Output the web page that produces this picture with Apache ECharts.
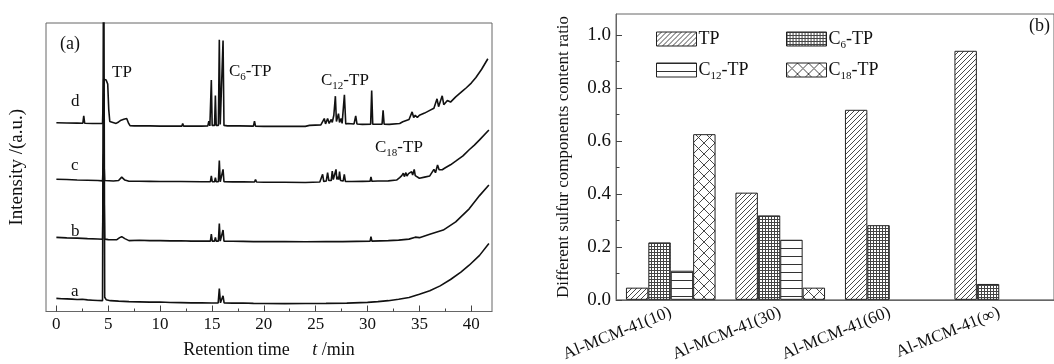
<!DOCTYPE html>
<html>
<head>
<meta charset="utf-8">
<script src="https://cdn.jsdelivr.net/npm/echarts@6/dist/echarts.min.js"></script>
<style>
html,body{margin:0;padding:0;background:#fff;}
#chart{width:1054px;height:364px;}
</style>
</head>
<body>
<div id="chart"></div>
<script>
// ---------- Panel (a): chromatograms, [retention time /min, intensity (a.u., offset included)] ----------
const timeTicks = [0, 5, 10, 15, 20, 25, 30, 35, 40];
const timeMinorTicks = [2.5, 7.5, 12.5, 17.5, 22.5, 27.5, 32.5, 37.5];

const traceA = [
  [0,13.3],[0.5,13],[1,12.8],[1.5,12.6],[2,12.2],[2.5,12.4],[3,11.8],[3.5,11.5],[4,11.2],[4.45,11],
  [4.56,420],[4.66,14.5],[4.8,12],[5.2,11],[6,10.5],[7,10],[8,9.8],[9,9.5],[10,9.6],[11,9.2],[12,9],
  [13,8.8],[14,8.9],[15,8.7],[15.6,8.7],[15.71,23.3],[15.82,8.8],[15.97,8.8],[16.07,16],[16.17,8.7],
  [17,8.5],[18,8.6],[19,8.3],[20,8.2],[22,8],[24,8.2],[26,8.3],[28,8.5],[30,9.3],[31,10],[32,11],
  [33,12.5],[34,14.3],[35,17.5],[36,21],[37,26],[38,32.5],[39,40],[39.8,47],[40.8,57],[41.7,69]
];
const traceB = [
  [0,75.3],[1,74.8],[2,74.5],[3,74],[4,73.6],[4.45,73.3],[4.56,150],[4.66,73.5],[5,73],[5.8,72.8],
  [6.1,75],[6.3,76],[6.6,74],[7,72],[8,72.3],[9,72],[10,72],[11,71.7],[12,71.8],[13,71.5],[14,71.5],
  [14.85,71.5],[14.94,78.7],[15.03,71.5],[15.25,71.5],[15.33,75.3],[15.41,71.5],[15.62,71.5],[15.71,89.3],
  [15.8,71.5],[15.98,71.5],[16.07,82.7],[16.16,71.5],[17,71.3],[18,71.2],[19,71],[20,71],[22,71],[24,70.8],
  [26,71],[27.4,71],[27.5,73],[27.6,71],[30.25,71.5],[30.33,76],[30.42,71.5],[32,72],[33,72.5],[34,73.5],
  [34.6,75.5],[35,75],[36,78.5],[37.3,82.7],[38.5,91],[39.8,104.3],[40.8,117.7],[41.7,128.5]
];
const traceC = [
  [0,134.3],[1,134],[2,133.6],[3,133.3],[4,133],[4.45,132.7],[4.56,160],[4.66,133],[5.5,132.5],[6,133],
  [6.3,136.5],[6.6,133.5],[7,132.3],[8,132.3],[9,132.2],[10,132],[12,132],[14,131.8],[14.85,131.8],
  [14.94,137.7],[15.03,131.8],[15.25,131.8],[15.33,136],[15.41,131.8],[15.62,131.8],[15.71,153.3],[15.8,131.8],
  [15.98,131.8],[16.07,144.3],[16.16,131.8],[17,131.6],[18,131.6],[19.1,131.5],[19.2,134],[19.3,131.5],
  [20,131.3],[22,131.2],[24,131],[25.4,131.5],[25.55,133],[25.67,139.3],[25.78,132],[25.9,133],[26.02,132.5],
  [26.15,141],[26.27,133],[26.4,134],[26.5,133],[26.6,142.7],[26.7,134],[26.8,136],[26.88,134],[26.96,144.3],
  [27.04,134],[27.15,137],[27.22,134],[27.3,142],[27.4,133],[27.5,132],[27.65,132.5],[27.76,139.3],[27.87,132],
  [28.5,132],[29.5,132.2],[30.25,132.3],[30.33,136.7],[30.42,132.3],[31,132.5],[32,132.7],[32.8,133.5],
  [33.1,136],[33.3,138],[33.45,140.5],[33.55,137],[33.7,141],[33.8,137.5],[33.95,140],[34.1,138],[34.25,142],
  [34.35,138.5],[34.5,144.3],[34.6,138],[35,135.3],[35.5,136.5],[36,137.7],[36.4,144.3],[36.55,141],
  [36.75,148.7],[36.9,144],[37,146],[37.2,144],[37.5,146],[38,149],[38.5,152.7],[39.2,158],[39.8,164.3],
  [40.3,169],[40.8,174.3],[41.7,184.3]
];
const traceD = [
  [0,191.7],[1,191.5],[2,191.3],[2.55,191.2],[2.64,198.7],[2.73,191.2],[3.5,191],[4.45,191],[4.56,236],
  [4.65,236.7],[4.8,235],[4.95,231],[5.05,205],[5.15,193],[5.3,191.2],[5.76,191],[6,192.5],[6.24,194.3],
  [6.5,195.2],[6.78,196],[6.9,196],[6.97,191],[7.1,188.7],[7.5,188.5],[8,188.7],[9,188.5],[10,188.3],
  [11,188.3],[12.1,188.3],[12.18,191],[12.26,188.3],[13,188.3],[14,188.3],[14.6,188.5],[14.7,193.3],
  [14.8,188.5],[14.86,188.5],[14.94,235],[15.02,189],[15.25,189],[15.33,219.3],[15.41,189],[15.62,189],
  [15.71,276],[15.8,190],[15.98,190],[16.07,275.3],[16.16,189],[16.5,188.5],[17.25,188.5],[17.32,190.5],
  [17.4,188.5],[17.62,188.5],[17.7,190.5],[17.78,188.5],[19,188.3],[19.1,193.3],[19.2,188.3],[20,188],
  [22,188],[24,188],[24.4,189],[25.5,189.5],[25.83,196],[25.95,190.5],[26.15,196],[26.3,191],[26.5,195],
  [26.6,192],[26.75,199.3],[26.9,218.7],[27,193],[27.2,201],[27.3,192],[27.45,196],[27.55,191],[27.77,220],
  [27.9,190.5],[28.1,191],[28.7,190.5],[28.86,198.7],[28.98,190.5],[29.5,190],[30.3,190.3],[30.4,224.3],
  [30.5,190.3],[31.4,190.2],[31.5,204.3],[31.6,190.2],[32.1,190],[33.1,191],[33.4,192.7],[34,195],
  [34.3,202.7],[34.45,197],[34.6,199.3],[34.8,197],[35,199.3],[35.5,201.5],[36,204.3],[36.4,206.5],
  [36.7,216],[36.85,208],[37.2,219],[37.35,210],[37.7,214.3],[38,212.7],[38.5,218],[39.2,224.3],
  [39.5,227],[40,232],[40.45,237.7],[41,246],[41.6,256.7]
];

// ---------- Panel (b): bar chart ----------
const categories = ['Al-MCM-41(10)', 'Al-MCM-41(30)', 'Al-MCM-41(60)', 'Al-MCM-41(\u221E)'];
const seriesNames = ['TP', 'C6-TP', 'C12-TP', 'C18-TP'];
const tpRatio  = [0.046, 0.405, 0.718, 0.941];
const c6Ratio  = [0.217, 0.319, 0.282, 0.060];
const c12Ratio = [0.110, 0.227, null, null];
const c18Ratio = [0.626, 0.046, null, null];
const ratioTicks = [0, 0.2, 0.4, 0.6, 0.8, 1.0];
const ratioMinorTicks = [0.1, 0.3, 0.5, 0.7, 0.9];

// ---------- helpers ----------
const FONT = '"Liberation Serif", "Times New Roman", serif';
const INK = '#111';

function makeTile(kind) {
  const c = document.createElement('canvas');
  let w = 5, h = 5;
  if (kind === 'grid') { w = 3; h = 3; }
  if (kind === 'hlines') { w = 4; h = 8; }
  if (kind === 'cross') { w = 11; h = 11; }
  c.width = w; c.height = h;
  const g = c.getContext('2d');
  g.fillStyle = '#fff';
  g.fillRect(0, 0, w, h);
  g.strokeStyle = '#333';
  g.fillStyle = '#333';
  if (kind === 'diag') {
    g.lineWidth = 0.9;
    g.beginPath();
    g.moveTo(-1, h + 1); g.lineTo(w + 1, -1);
    g.moveTo(-1, 1); g.lineTo(1, -1);
    g.moveTo(w - 1, h + 1); g.lineTo(w + 1, h - 1);
    g.stroke();
  } else if (kind === 'grid') {
    g.fillStyle = '#444';
    g.fillRect(0, 0, w, 1);
    g.fillRect(0, 0, 1, h);
  } else if (kind === 'hlines') {
    g.fillRect(0, 0, w, 1);
  } else if (kind === 'cross') {
    g.lineWidth = 0.9;
    g.beginPath();
    g.moveTo(0, 0); g.lineTo(w, h);
    g.moveTo(0, h); g.lineTo(w, 0);
    g.stroke();
  }
  return { image: c, repeat: 'repeat' };
}
const patterns = [makeTile('diag'), makeTile('grid'), makeTile('hlines'), makeTile('cross')];

function richName(name) {
  const m = name.match(/^C(\d+)-TP$/);
  if (!m) return '{n|' + name + '}';
  return '{n|C}{s|' + m[1] + '}{n|-TP}';
}
function richSet(size) {
  const sub = Math.round(size * 0.62);
  return {
    n: { fontSize: size, fontFamily: FONT, color: INK, lineHeight: size + 5, verticalAlign: 'middle' },
    s: { fontSize: sub, fontFamily: FONT, color: INK, lineHeight: size + 5, verticalAlign: 'bottom' },
    i: { fontSize: size, fontFamily: FONT, color: INK, fontStyle: 'italic', lineHeight: size + 5 }
  };
}
const richLegend = richSet(18);
const richAnno = richSet(17);
const richAxis = richSet(18);

const chart = echarts.init(document.getElementById('chart'), null, { renderer: 'canvas' });

const barData = [tpRatio, c6Ratio, c12Ratio, c18Ratio];
const legendPos = [[656, 30], [786, 30], [656, 61], [786, 61]];

function textEl(str, left, top, size) {
  return {
    type: 'text', left: left, top: top,
    style: { text: str, rich: richAnno, fill: INK, font: (size || 17) + 'px ' + FONT }
  };
}

const option = {
  animation: false,
  backgroundColor: '#fff',
  grid: [
    { left: 46, top: 23, width: 446, height: 293, show: true, borderColor: '#666', borderWidth: 1, backgroundColor: 'transparent' },
    { left: 616, top: 14, width: 448, height: 293, show: true, borderColor: '#666', borderWidth: 1, backgroundColor: 'transparent' }
  ],
  legend: seriesNames.map((nm, i) => ({
    data: [nm],
    left: legendPos[i][0], top: legendPos[i][1],
    orient: 'horizontal',
    icon: 'rect',
    itemWidth: 40, itemHeight: 14,
    selectedMode: false,
    padding: 0,
    formatter: richName,
    textStyle: { rich: richLegend, padding: [0, 0, 0, -3] },
    itemStyle: { borderColor: '#222', borderWidth: 1 }
  })),
  xAxis: [
    {
      type: 'value', gridIndex: 0, min: -1, max: 42, position: 'bottom',
      axisLine: { show: true, lineStyle: { color: '#666', width: 1 } },
      axisTick: { show: true, inside: true, length: 6, customValues: timeTicks, lineStyle: { color: '#444' } },
      axisLabel: { show: true, customValues: timeTicks, fontSize: 17, fontFamily: FONT, color: INK, margin: 5 },
      splitLine: { show: false },
      name: '{n|Retention time     }{i|t}{n| /min}',
      nameLocation: 'middle', nameGap: 27,
      nameTextStyle: { rich: richAxis }
    },
    {
      type: 'value', gridIndex: 0, min: -1, max: 42, position: 'bottom',
      axisLine: { show: false },
      axisTick: { show: true, inside: true, length: 3, customValues: timeMinorTicks, lineStyle: { color: '#444' } },
      axisLabel: { show: false },
      splitLine: { show: false }
    },
    {
      type: 'category', gridIndex: 1, data: categories,
      axisLine: { show: true, lineStyle: { color: '#666', width: 1 } },
      axisTick: { show: false },
      axisLabel: { rotate: 22, fontSize: 17, fontFamily: FONT, color: INK, margin: 12, interval: 0 },
      splitLine: { show: false }
    }
  ],
  yAxis: [
    {
      type: 'value', gridIndex: 0, min: 0, max: 293,
      axisLine: { show: false }, axisTick: { show: false }, axisLabel: { show: false }, splitLine: { show: false },
      name: 'Intensity /(a.u.)', nameLocation: 'middle', nameGap: 19,
      nameTextStyle: { fontSize: 19, fontFamily: FONT, color: INK }
    },
    {
      type: 'value', gridIndex: 1, min: 0, max: 1.08, position: 'left',
      axisLine: { show: true, lineStyle: { color: '#666', width: 1 } },
      axisTick: { show: true, inside: true, length: 6, customValues: ratioTicks, lineStyle: { color: '#444' } },
      axisLabel: { show: true, customValues: ratioTicks, formatter: v => v.toFixed(1), fontSize: 19, fontFamily: FONT, color: INK, margin: 5 },
      splitLine: { show: false },
      name: 'Different sulfur components content ratio', nameLocation: 'middle', nameGap: 44,
      nameTextStyle: { fontSize: 17, fontFamily: FONT, color: INK }
    },
    {
      type: 'value', gridIndex: 1, min: 0, max: 1.08, position: 'left',
      axisLine: { show: false },
      axisTick: { show: true, inside: true, length: 3.5, customValues: ratioMinorTicks, lineStyle: { color: '#444' } },
      axisLabel: { show: false },
      splitLine: { show: false }
    }
  ],
  series: [
    ...[traceA, traceB, traceC, traceD].map((d, i) => ({
      name: 'trace' + i, type: 'line', xAxisIndex: 0, yAxisIndex: 0, data: d,
      showSymbol: false, symbol: 'none', clip: true,
      lineStyle: { color: INK, width: 1.6 }, z: 3
    })),
    ...seriesNames.map((nm, i) => ({
      name: nm, type: 'bar', xAxisIndex: 2, yAxisIndex: 1, data: barData[i],
      barWidth: 22.4, barGap: '0%',
      itemStyle: { color: patterns[i], borderColor: '#222', borderWidth: 1 }
    }))
  ],
  graphic: [
    textEl('(a)', 60, 35, 18),
    textEl('TP', 112, 64),
    textEl(richName('C6-TP'), 229, 63),
    textEl(richName('C12-TP'), 321, 72),
    textEl(richName('C18-TP'), 375, 139),
    textEl('d', 71, 93),
    textEl('c', 71, 157),
    textEl('b', 71, 223),
    textEl('a', 71, 283),
    textEl('(b)', 1029, 17, 18)
  ]
};
chart.setOption(option);
</script>
</body>
</html>
